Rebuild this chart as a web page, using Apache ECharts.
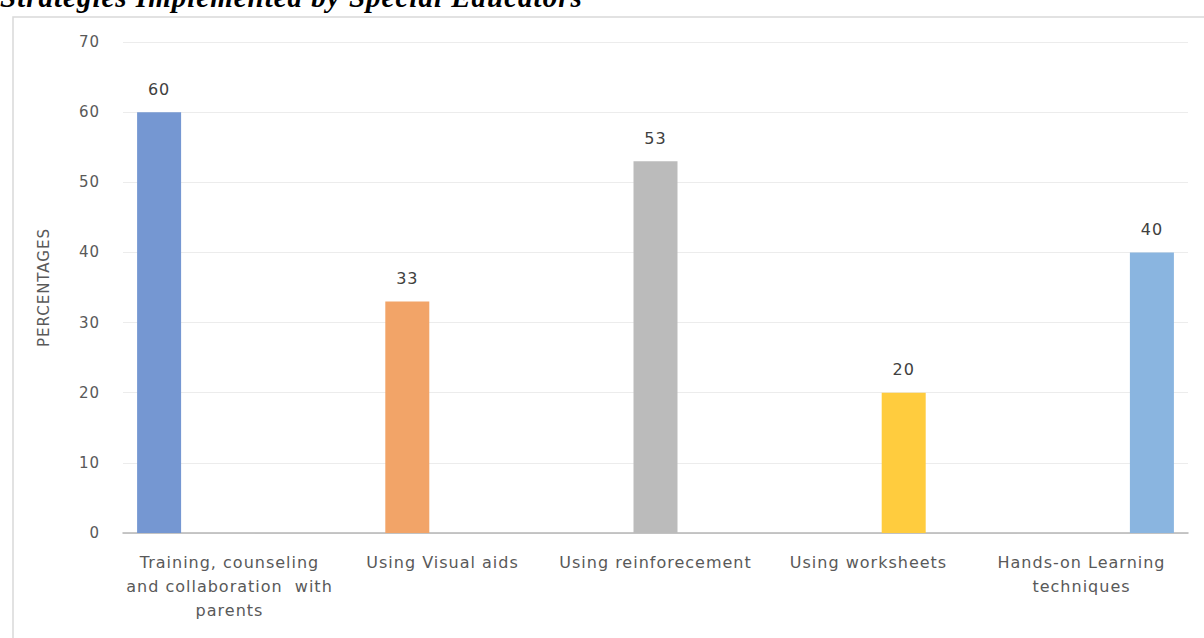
<!DOCTYPE html>
<html>
<head>
<meta charset="utf-8">
<script src="https://cdn.jsdelivr.net/npm/echarts@6/dist/echarts.min.js"></script>
<style>
html,body{margin:0;padding:0;background:#fff;overflow:hidden;}
#c{width:1204px;height:638px;}
#c text{letter-spacing:1px;}
</style>
</head>
<body>
<div id="c"></div>
<script>
const categories = [
  "Training, counseling\nand collaboration  with\nparents",
  "Using Visual aids",
  "Using reinforecement",
  "Using worksheets",
  "Hands-on Learning\ntechniques"
];
const values = [60, 33, 53, 20, 40];
const colors = ["#7597D2", "#F2A468", "#BBBBBB", "#FFCC3E", "#8AB5E0"];
const yTicks = [0, 10, 20, 30, 40, 50, 60, 70];
const titleText = "Strategies Implemented by Special Educators";
const yAxisTitle = "PERCENTAGES";

const FONT = '"DejaVu Sans", "Open Sans", sans-serif';

const series = values.map((v, i) => ({
  type: 'bar',
  name: categories[i],
  barWidth: 44,
  barGap: '-20%',
  data: categories.map((c, j) => (j === i ? v : '-')),
  itemStyle: { color: colors[i] },
  label: {
    show: true, position: 'top', distance: 15,
    color: '#404040', fontSize: 16, fontFamily: FONT
  },
  silent: true
}));

const chart = echarts.init(document.getElementById('c'), null, { renderer: 'svg' });
chart.setOption({
  animation: false,
  backgroundColor: '#fff',
  grid: { left: 123, right: 16, top: 42, bottom: 105, containLabel: false },
  graphic: [
    { type: 'rect', shape: { x: 13, y: 17, width: 1200, height: 630 },
      style: { fill: 'none', stroke: '#d9d9d9', lineWidth: 1.5 }, z: -1 },
    { type: 'text', x: 0, y: 11,
      style: { text: titleText, font: 'italic bold 29px "Liberation Serif"', fill: '#000',
               textVerticalAlign: 'bottom', verticalAlign: 'bottom' } }
  ],
  xAxis: {
    type: 'category',
    data: categories,
    axisLine: { lineStyle: { color: '#b5b5b5', width: 1.5 } },
    axisTick: { show: false },
    axisLabel: { color: '#595959', fontSize: 16, fontFamily: FONT, lineHeight: 24, margin: 17, interval: 0 }
  },
  yAxis: {
    type: 'value', min: 0, max: 70, interval: 10,
    name: yAxisTitle, nameLocation: 'middle', nameRotate: 90, nameGap: 72,
    nameTextStyle: { color: '#595959', fontSize: 15, fontFamily: FONT },
    axisLine: { show: false }, axisTick: { show: false },
    axisLabel: { color: '#595959', fontSize: 15, fontFamily: FONT, margin: 23,
      formatter: v => (yTicks.indexOf(v) >= 0 ? String(v) : '') },
    splitLine: { lineStyle: { color: '#ececec', width: 1 } }
  },
  series: series
});
</script>
</body>
</html>
